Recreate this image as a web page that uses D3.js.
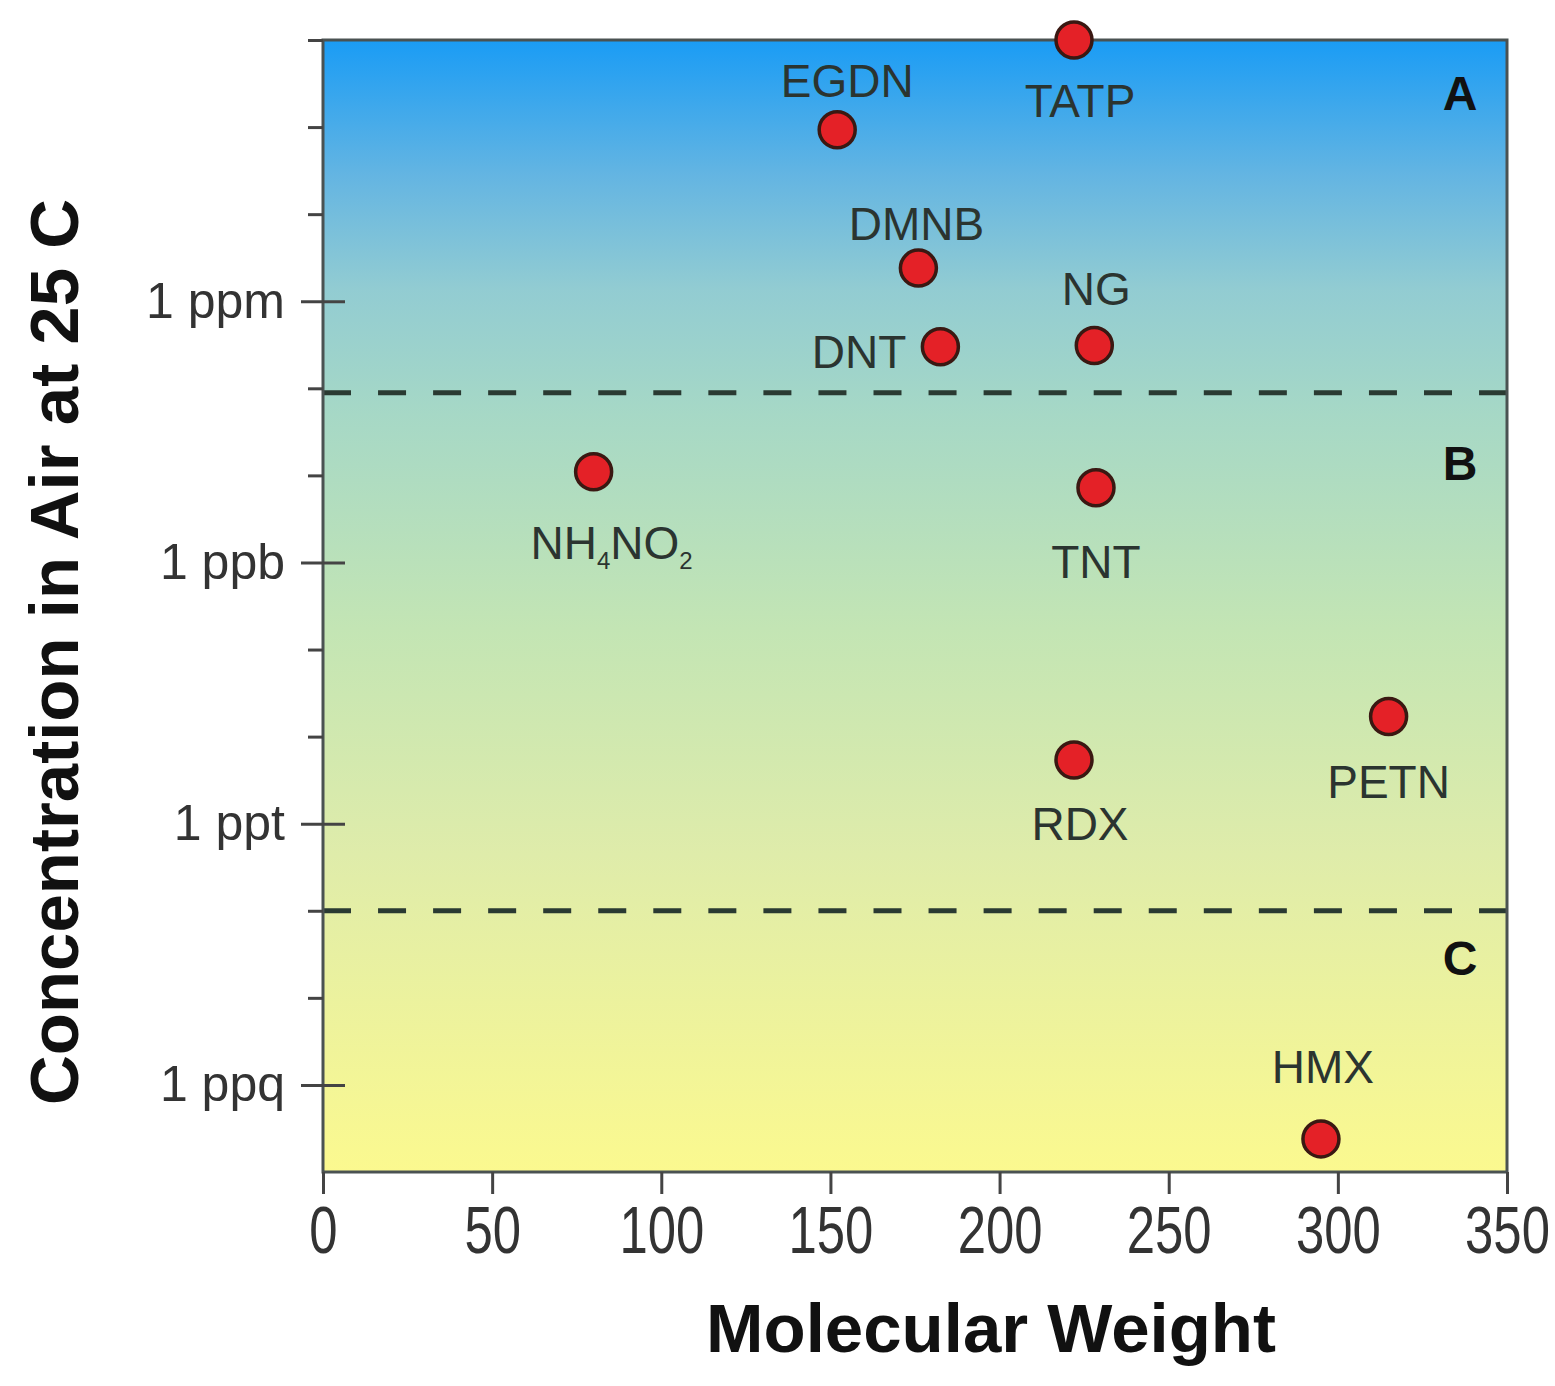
<!doctype html>
<html>
  <head>
    <script src="https://d3js.org/d3.v7.min.js"></script>
    <style>
      body { margin: 0; background: #fff; }
      svg text { font-family: "Liberation Sans", Arial, sans-serif; }
    </style>
  </head>
  <body>
    <svg id="chart" width="1555" height="1386"></svg>
    <script>
      // compounds, molecular weight and vapour concentration (fraction of air)
      let names = ["TATP", "EGDN", "DMNB", "DNT", "NG", "NH4NO2", "TNT", "PETN", "RDX", "HMX"];
      let weights = [222, 152, 176, 182.5, 228, 80, 228.5, 315, 222, 295];
      let concs = [1e-3, 9.3e-5, 2.4e-6, 3.0e-7, 3.1e-7, 1.1e-8, 7.2e-9, 1.7e-11, 5.4e-12, 2.4e-16];

      let xTicks = [0, 50, 100, 150, 200, 250, 300, 350];
      let yMajor = [1e-6, 1e-9, 1e-12, 1e-15];
      let yMajorLabels = ["1 ppm", "1 ppb", "1 ppt", "1 ppq"];
      let yMinor = [1e-3, 1e-4, 1e-5, 1e-7, 1e-8, 1e-10, 1e-11, 1e-13, 1e-14];
      let zoneLines = [8.9e-8, 1.0e-13];
      let zoneNames = ["A", "B", "C"];
      let zoneAt = [2.5e-4, 1.4e-8, 2.9e-14];

      // label placement (layout only): anchor and offset from the dot
      let labelAnchor = ["middle", "middle", "middle", "end", "middle", "middle", "middle", "middle", "middle", "middle"];
      let labelDx = [6, 10, -2, -34, 2, 18, 0, 0, 6, 2];
      let labelDy = [77, -33, -28, 21, -41, 87, 90, 81, 80, -56];

      var svg = d3.select("#chart");
      var pLeft = 323, pRight = 1507, pTop = 40, pBottom = 1172;

      var x = d3.scaleLinear().domain([0, 350]).range([pLeft, pRight]);
      var y = d3.scaleLog().domain([1e-3, 1e-16]).range([pTop, pBottom]);

      /* background gradient */
      var grad = svg.append("defs").append("linearGradient")
        .attr("id", "bg").attr("x1", 0).attr("y1", 0).attr("x2", 0).attr("y2", 1);
      [[0, "#1a9cf5"], [0.12, "#64b5e2"], [0.22, "#92ccd2"], [0.33, "#a6d8c6"],
       [0.52, "#c3e5b4"], [0.72, "#dfecaa"], [1, "#fbf98f"]].forEach(s => {
        grad.append("stop").attr("offset", s[0]).attr("stop-color", s[1]);
      });

      svg.append("rect")
        .attr("x", pLeft).attr("y", pTop)
        .attr("width", pRight - pLeft).attr("height", pBottom - pTop)
        .style("fill", "url(#bg)");

      /* zone dashed lines */
      svg.selectAll("line.zone").data(zoneLines).enter().append("line")
        .attr("class", "zone")
        .attr("x1", pLeft).attr("x2", pRight)
        .attr("y1", d => y(d)).attr("y2", d => y(d))
        .style("stroke", "#2a3a32").style("stroke-width", 5)
        .style("stroke-dasharray", "28,27.05");

      svg.selectAll("text.zone").data(zoneNames).enter().append("text")
        .attr("class", "zone")
        .attr("x", 1460).attr("y", (d, i) => y(zoneAt[i]))
        .attr("text-anchor", "middle").attr("dy", "0.36em")
        .style("font-size", "48px").style("font-weight", "bold").style("fill", "#111")
        .text(d => d);

      /* frame */
      svg.append("rect")
        .attr("x", pLeft).attr("y", pTop)
        .attr("width", pRight - pLeft).attr("height", pBottom - pTop)
        .style("fill", "none").style("stroke", "#4a5252").style("stroke-width", 3);

      /* x axis */
      var xAxis = svg.append("g")
        .attr("transform", "translate(0," + pBottom + ")")
        .call(d3.axisBottom(x).tickValues(xTicks).tickSize(22).tickPadding(12).tickFormat(d3.format("d")));
      xAxis.select(".domain").remove();
      xAxis.selectAll("line").style("stroke", "#444").style("stroke-width", 3);
      xAxis.selectAll("text")
        .attr("transform", "scale(0.77,1)")
        .style("font-size", "66px").style("fill", "#333");

      /* y axis, major ticks cross the frame */
      var yAxis = svg.append("g")
        .attr("transform", "translate(" + pLeft + ",0)")
        .call(d3.axisLeft(y).tickValues(yMajor).tickSize(22).tickPadding(16)
          .tickFormat((d, i) => yMajorLabels[i]));
      yAxis.select(".domain").remove();
      yAxis.selectAll("line").attr("x2", -22).attr("x1", 22)
        .style("stroke", "#444").style("stroke-width", 3);
      yAxis.selectAll("text").style("font-size", "50px").style("fill", "#333");

      var yMinorAxis = svg.append("g")
        .attr("transform", "translate(" + pLeft + ",0)")
        .call(d3.axisLeft(y).tickValues(yMinor).tickSize(15).tickFormat(""));
      yMinorAxis.select(".domain").remove();
      yMinorAxis.selectAll("line").style("stroke", "#444").style("stroke-width", 3);

      /* points */
      var pts = names.map((n, i) => ({ name: n, w: weights[i], c: concs[i], i: i }));

      svg.selectAll("circle.pt").data(pts).enter().append("circle")
        .attr("class", "pt")
        .attr("cx", d => x(d.w)).attr("cy", d => y(d.c))
        .attr("r", 18)
        .style("fill", "#e42127").style("stroke", "#3a1812").style("stroke-width", 3.5);

      var lab = svg.selectAll("text.pt").data(pts).enter().append("text")
        .attr("class", "pt")
        .attr("x", d => x(d.w) + labelDx[d.i])
        .attr("y", d => y(d.c) + labelDy[d.i])
        .attr("text-anchor", d => labelAnchor[d.i])
        .style("font-size", "46px").style("fill", "#2b3430");

      lab.each(function (d) {
        var t = d3.select(this);
        if (d.name == "NH4NO2") {
          t.append("tspan").text("NH");
          t.append("tspan").attr("dy", 10).style("font-size", "24px").text("4");
          t.append("tspan").attr("dy", -10).text("NO");
          t.append("tspan").attr("dy", 10).style("font-size", "24px").text("2");
        } else {
          t.text(d.name);
        }
      });

      /* axis titles */
      svg.append("text")
        .attr("x", 991).attr("y", 1352)
        .attr("text-anchor", "middle")
        .style("font-size", "69px").style("font-weight", "bold").style("fill", "#111")
        .text("Molecular Weight");

      svg.append("text")
        .attr("transform", "translate(78,652) rotate(-90)")
        .attr("text-anchor", "middle")
        .style("font-size", "69px").style("font-weight", "bold").style("fill", "#111")
        .text("Concentration in Air at 25 C");
    </script>
  </body>
</html>
